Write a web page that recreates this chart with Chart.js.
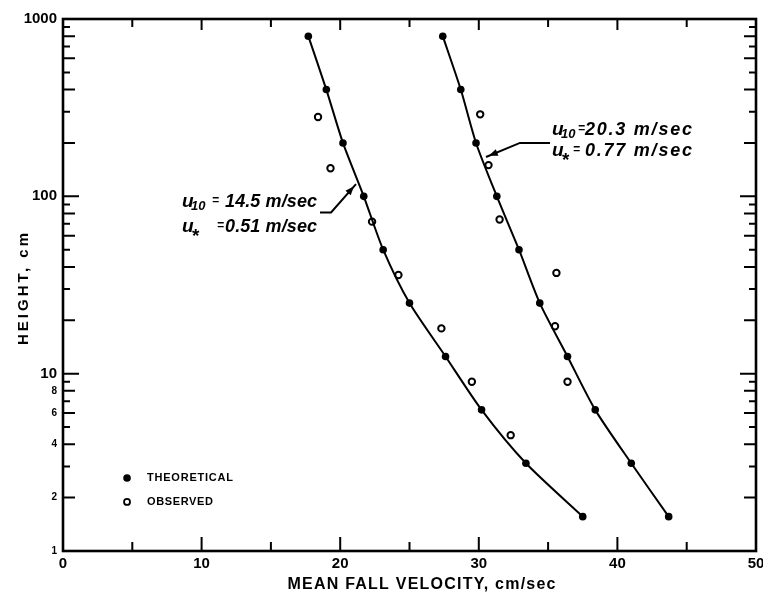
<!DOCTYPE html>
<html><head><meta charset="utf-8">
<script src="https://cdn.jsdelivr.net/npm/chart.js@4/dist/chart.umd.min.js"></script>
<style>html,body{margin:0;padding:0;background:#fff;overflow:hidden}#wrap{width:763px;height:594px}</style>
</head><body><div id="wrap"><canvas id="c" width="763" height="594"></canvas></div>
<script>
// ---- data ----
const theoHeights = [800, 400, 200, 100, 50, 25, 12.5, 6.25, 3.125, 1.5625];
const theoLeftVel = [17.7, 19.0, 20.2, 21.7, 23.1, 25.0, 27.6, 30.2, 33.4, 37.5];
const theoRightVel = [27.4, 28.7, 29.8, 31.3, 32.9, 34.4, 36.4, 38.4, 41.0, 43.7];
const obsLeftVel = [18.4, 19.3, 22.3, 24.2, 27.3, 29.5, 32.3];
const obsLeftHeight = [280, 144, 72, 36, 18, 9, 4.5];
const obsRightVel = [30.1, 30.7, 31.5, 35.6, 35.5, 36.4];
const obsRightHeight = [290, 150, 74, 37, 18.5, 9];
const xTickValues = [0, 10, 20, 30, 40, 50];
const xMinorTicks = [5, 15, 25, 35, 45];
const yDecades = [1, 10, 100];
const yMultipliers = [1, 2, 3, 4, 5, 6, 7, 8, 9];
const yLabelled = [1, 2, 4, 6, 8, 10, 100, 1000];
const xTitle = 'MEAN FALL VELOCITY, cm/sec';
const yTitle = 'HEIGHT, cm';
const legendLabels = ['THEORETICAL', 'OBSERVED'];
// annotation anchors in data units (velocity, height)
const annLeft = {u: 8.59, eq1: 10.75, eq2: 11.11, start: 11.69, end: 18.33, y1: 87.1, y2: 62.9,
  l1: '14.5 m/sec', l2: '0.51 m/sec',
  leader: [[18.54, 81.1], [19.34, 81.1], [21.14, 117.3]]};
const annRight = {u: 35.28, eq1: 37.16, eq2: 36.80, start: 37.66, end: 45.38, y1: 221.8, y2: 168.8,
  l1: '20.3 m/sec', l2: '0.77 m/sec',
  leader: [[35.14, 200], [32.97, 200], [30.52, 166.6]]};

const yTickValues = [];
yDecades.forEach(d => yMultipliers.forEach(m => yTickValues.push(m * d)));
yTickValues.push(1000);

const pts = (xs, ys) => xs.map((x, i) => ({x: x, y: ys[i]}));

const decor = {
  id: 'decor',
  afterDraw(chart) {
    const ctx = chart.ctx, a = chart.chartArea, xs = chart.scales.x, ys = chart.scales.y;
    const P = (x, y) => [xs.getPixelForValue(x), ys.getPixelForValue(y)];
    ctx.save();
    ctx.strokeStyle = '#000'; ctx.fillStyle = '#000'; ctx.lineCap = 'butt';
    // frame
    ctx.lineWidth = 2.6;
    ctx.strokeRect(a.left, a.top, a.right - a.left, a.bottom - a.top);
    // x ticks (inward, bottom and top)
    ctx.lineWidth = 2;
    const xt = (v, lb, lt) => {
      const px = xs.getPixelForValue(v);
      ctx.beginPath();
      ctx.moveTo(px, a.bottom); ctx.lineTo(px, a.bottom - lb);
      ctx.moveTo(px, a.top); ctx.lineTo(px, a.top + lt);
      ctx.stroke();
    };
    xTickValues.forEach(v => xt(v, 14, 11));
    xMinorTicks.forEach(v => xt(v, 9, 8));
    // y ticks (inward, left and right)
    yTickValues.forEach(v => {
      const py = ys.getPixelForValue(v);
      const m = Math.round(v / Math.pow(10, Math.floor(Math.log10(v) + 1e-9)));
      const len = m === 1 ? 16 : (m % 2 === 0 ? 12 : 7);
      ctx.beginPath();
      ctx.moveTo(a.left, py); ctx.lineTo(a.left + len, py);
      ctx.moveTo(a.right, py); ctx.lineTo(a.right - len, py);
      ctx.stroke();
    });
    // text spread over a given width, starting at x
    const spread = (text, x, y, font, width) => {
      ctx.font = font; ctx.letterSpacing = '0px';
      const w = ctx.measureText(text).width;
      const sp = Math.max(0, (width - w) / (text.length - 1));
      ctx.letterSpacing = sp + 'px';
      ctx.textAlign = 'left';
      ctx.fillText(text, x, y);
      ctx.letterSpacing = '0px';
    };
    ctx.textBaseline = 'alphabetic';
    // axis titles
    spread(xTitle, (a.left + a.right) / 2 + 12 - 134, 589, 'bold 16px "Liberation Sans"', 268);
    ctx.save();
    ctx.translate(28, (a.top + a.bottom) / 2 + 4 + 56);
    ctx.rotate(-Math.PI / 2);
    spread(yTitle, 0, 0, 'bold 15px "Liberation Sans"', 112);
    ctx.restore();
    // legend
    const [lx, ly1] = P(4.62, 2.58);
    const [, ly2] = P(4.62, 1.89);
    const [tx] = P(6.06, 1);
    ctx.beginPath(); ctx.arc(lx, ly1, 3.8, 0, Math.PI * 2); ctx.fill();
    ctx.beginPath(); ctx.arc(lx, ly2, 3, 0, Math.PI * 2); ctx.lineWidth = 1.8; ctx.stroke();
    ctx.textBaseline = 'middle';
    spread(legendLabels[0], tx, ly1, 'bold 11px "Liberation Sans"', 86);
    spread(legendLabels[1], tx, ly2, 'bold 11px "Liberation Sans"', 66);
    ctx.textBaseline = 'alphabetic';
    // annotations
    const ann = (o) => {
      const [ux, b1] = P(o.u, o.y1);
      const [, b2] = P(o.u, o.y2);
      const [e1] = P(o.eq1, 1), [e2] = P(o.eq2, 1);
      const [sx] = P(o.start, 1), [endx] = P(o.end, 1);
      ctx.textAlign = 'left';
      ctx.font = 'italic bold 19px "Liberation Sans"';
      ctx.fillText('u', ux, b1); ctx.fillText('u', ux, b2);
      ctx.font = 'italic bold 13px "Liberation Sans"';
      ctx.fillText('10', ux + 9, b1 + 3);
      ctx.font = 'bold 19px "Liberation Sans"';
      ctx.fillText('*', ux + 10, b2 + 10);
      ctx.font = 'italic bold 12px "Liberation Sans"';
      ctx.fillText('=', e1, b1 - 3); ctx.fillText('=', e2, b2 - 3);
      spread(o.l1, sx, b1, 'italic bold 18px "Liberation Sans"', endx - sx);
      spread(o.l2, sx, b2, 'italic bold 18px "Liberation Sans"', endx - sx);
      // leader with arrow
      const L = o.leader.map(p => P(p[0], p[1]));
      ctx.lineWidth = 2;
      ctx.beginPath(); ctx.moveTo(L[0][0], L[0][1]);
      L.slice(1).forEach(p => ctx.lineTo(p[0], p[1]));
      ctx.stroke();
      const [bx, by] = L[L.length - 2], [cx, cy] = L[L.length - 1];
      const ang = Math.atan2(cy - by, cx - bx);
      const tipx = cx - 3 * Math.cos(ang), tipy = cy - 3 * Math.sin(ang);
      ctx.beginPath();
      ctx.moveTo(tipx, tipy);
      ctx.lineTo(tipx - 9 * Math.cos(ang) + 3.5 * Math.sin(ang), tipy - 9 * Math.sin(ang) - 3.5 * Math.cos(ang));
      ctx.lineTo(tipx - 9 * Math.cos(ang) - 3.5 * Math.sin(ang), tipy - 9 * Math.sin(ang) + 3.5 * Math.cos(ang));
      ctx.closePath(); ctx.fill();
    };
    ann(annLeft); ann(annRight);
    ctx.restore();
  }
};

const lineDs = (data) => ({
  data: data, showLine: true, borderColor: '#000', borderWidth: 2, tension: 0.25,
  pointRadius: 3.8, pointBackgroundColor: '#000', pointBorderColor: '#000', pointBorderWidth: 0
});
const obsDs = (data) => ({
  data: data, showLine: false, pointRadius: 3.2, pointBackgroundColor: '#fff',
  pointBorderColor: '#000', pointBorderWidth: 2
});

new Chart(document.getElementById('c'), {
  type: 'scatter',
  data: {
    datasets: [
      lineDs(pts(theoLeftVel, theoHeights)),
      lineDs(pts(theoRightVel, theoHeights)),
      obsDs(pts(obsLeftVel, obsLeftHeight)),
      obsDs(pts(obsRightVel, obsRightHeight))
    ]
  },
  options: {
    responsive: false, animation: false, devicePixelRatio: 1,
    layout: {padding: {top: 19, right: 7, left: 0, bottom: 0}},
    plugins: {legend: {display: false}, tooltip: {enabled: false}},
    scales: {
      x: {
        type: 'linear', min: 0, max: 50,
        afterBuildTicks: s => { s.ticks = xTickValues.map(v => ({value: v})); },
        afterFit: s => { s.height = 43; s.paddingLeft = 0; s.paddingRight = 0; },
        ticks: {autoSkip: false, maxRotation: 0, padding: 4, color: '#000',
          font: {family: 'Liberation Sans', size: 15, weight: 'bold'}},
        grid: {display: false, drawTicks: false, tickLength: 0}, border: {display: false}
      },
      y: {
        type: 'logarithmic', min: 1, max: 1000,
        afterBuildTicks: s => { s.ticks = yTickValues.map(v => ({value: v})); },
        afterFit: s => { s.width = 63; s.paddingTop = 0; s.paddingBottom = 0; },
        ticks: {autoSkip: false, padding: 6, color: '#000',
          callback: v => yLabelled.includes(v) ? String(v) : '',
          font: c => (c.tick && c.tick.value >= 10)
            ? {family: 'Liberation Sans', size: 15, weight: 'bold'}
            : {family: 'Liberation Sans', size: 10, weight: 'bold'}},
        grid: {display: false, drawTicks: false, tickLength: 0}, border: {display: false}
      }
    }
  },
  plugins: [decor]
});
</script></body></html>
